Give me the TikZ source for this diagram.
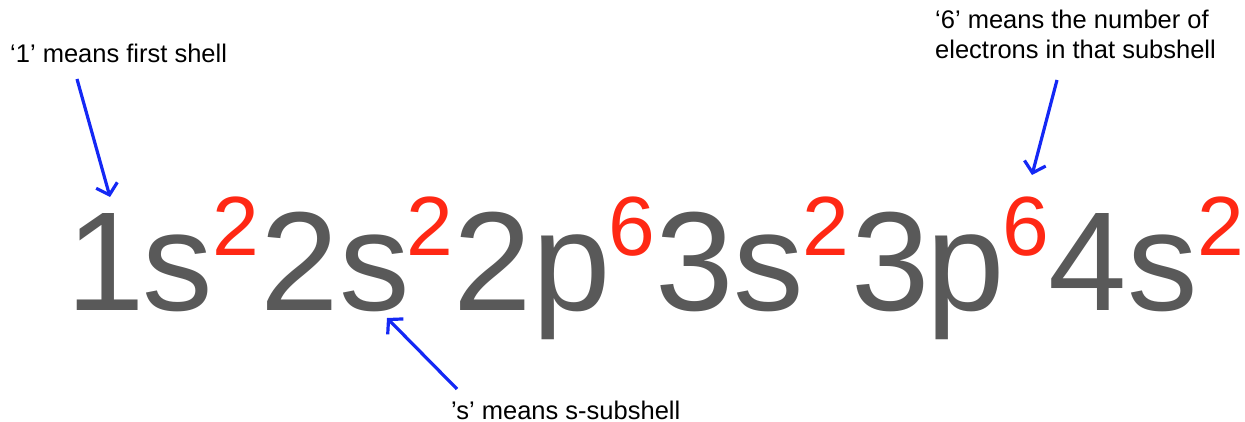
\documentclass[tikz,border=0pt]{standalone}
\usepackage{fontspec}
\setmainfont{Liberation Sans}
\usetikzlibrary{arrows.meta}
\definecolor{glyphgray}{RGB}{89,89,89}
\definecolor{supred}{RGB}{255,40,20}
\definecolor{arrowblue}{RGB}{20,40,245}
\begin{document}
\begin{tikzpicture}[x=1pt,y=-1pt,
  big/.style={inner sep=0pt, anchor=base, text=glyphgray, font=\fontsize{141}{141}\selectfont},
  sup/.style={inner sep=0pt, anchor=base, text=supred, font=\fontsize{84}{84}\selectfont},
  lbl/.style={inner sep=0pt, anchor=base west, text=black, font=\fontsize{25.5}{30}\selectfont},
  pointer/.style={draw=arrowblue, line width=3.2pt, -{Straight Barb[length=10pt,width=22pt]}}]
\useasboundingbox (0,0) rectangle (1245,422);
% main configuration
\node[big] (g1)  at (106,310)   {1};
\node[big] (g2)  at (178,310)   {s};
\node[sup] (s1)  at (236,255)   {2};
\node[big] (g3)  at (299.5,310) {2};
\node[big] (g4)  at (375,310)   {s};
\node[sup] (s2)  at (430,255)   {2};
\node[big] (g5)  at (492.5,310) {2};
\node[big] (g6)  at (572,310)   {p};
\node[sup] (s3)  at (632,255)   {6};
\node[big] (g7)  at (694.5,310) {3};
\node[big] (g8)  at (769,310)   {s};
\node[sup] (s4)  at (826,255)   {2};
\node[big] (g9)  at (890.5,310) {3};
\node[big] (g10) at (966,310)   {p};
\node[sup] (s5)  at (1026,255)  {6};
\node[big] (g11) at (1087.5,310){4};
\node[big] (g12) at (1163,310)  {s};
\node[sup] (s6)  at (1221,255)  {2};
% labels
\node[lbl] (l1) at (10,63) {‘1’ means first shell};
\node[lbl, align=left] (l2) at (935,59) {‘6’ means the number of\\electrons in that subshell};
\node[lbl] (l3) at (451,419) {’s’ means s-subshell};
% arrows
\coordinate (a1s) at (77,79);
\coordinate (a1e) at (110,197);
\coordinate (a2s) at (1057,80);
\coordinate (a2e) at (1032,175);
\coordinate (a3s) at (457,389);
\coordinate (a3e) at (387,318);
\draw[pointer] (a1s) -- (a1e);
\draw[pointer] (a2s) -- (a2e);
\draw[pointer] (a3s) -- (a3e);
\end{tikzpicture}
\end{document}
